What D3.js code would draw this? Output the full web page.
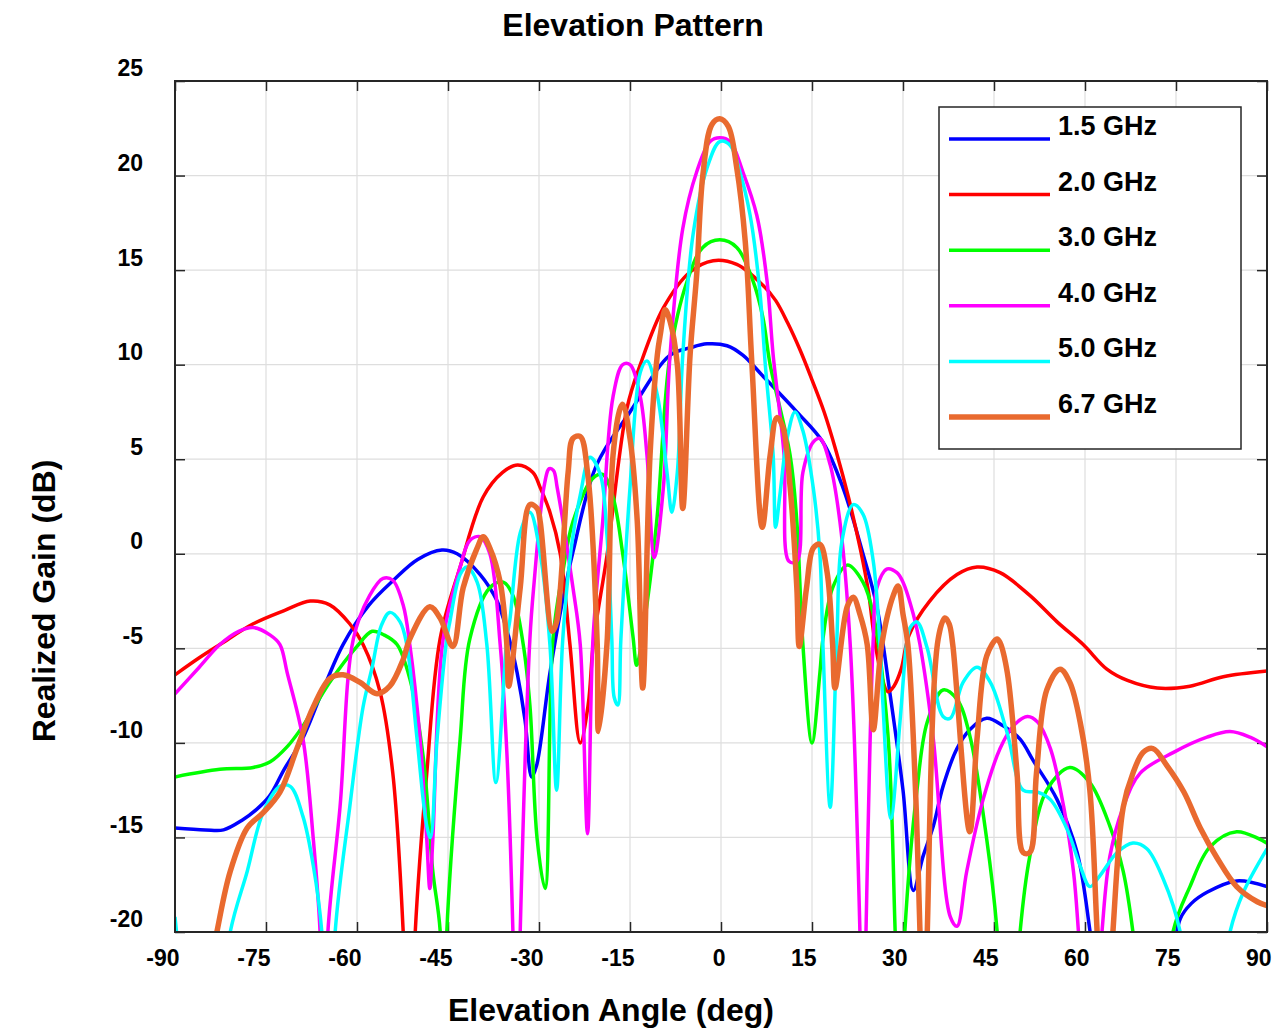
<!DOCTYPE html>
<html>
<head>
<meta charset="UTF-8">
<title>Elevation Pattern</title>
<script src="https://cdn.jsdelivr.net/npm/d3@7"></script>
<style>
  body { margin: 0; background: #fff; }
  svg text { font-family: "Liberation Sans", Arial, Helvetica, sans-serif; font-weight: bold; fill: #000; }
</style>
</head>
<body>
<div id="chart"></div>
<script>
// tick values
var angleTicks = [-90, -75, -60, -45, -30, -15, 0, 15, 30, 45, 60, 75, 90];
var gainTicks = [-20, -15, -10, -5, 0, 5, 10, 15, 20, 25];

var seriesNames = ["1.5 GHz", "2.0 GHz", "3.0 GHz", "4.0 GHz", "5.0 GHz", "6.7 GHz"];
var seriesColors = ["#0000ff", "#ff0000", "#00ff00", "#ff00ff", "#00ffff", "#e96a2f"];

// [angle deg, realized gain dB]; values under -20 are the nulls that get clipped
var gain15 = [[-90,-14.5],[-85,-14.6],[-82,-14.6],[-79,-14.1],[-76.5,-13.5],[-74.4,-12.8],[-72,-11.4],[-69,-9.8],[-66,-7.5],
  [-62.3,-4.8],[-58,-2.7],[-54,-1.4],[-50,-0.3],[-46,0.2],[-43.5,0.0],[-39.7,-1.1],[-36.9,-2.5],[-35.9,-3.4],[-34.5,-5.0],
  [-33.6,-6.3],[-32.3,-8.8],[-31.2,-11.8],[-30.4,-11.2],[-28.2,-6.3],[-26,-2.3],[-24.4,0.1],[-20.5,4.7],[-15,7.5],[-8.4,10.5],
  [-5,10.9],[-2.3,11.1],[1,11.0],[3.6,10.5],[6.9,9.4],[12.5,7.5],[16.8,5.9],[20.1,3.5],[23.4,0],[25.7,-2.8],[27.9,-7.5],
  [30,-12.5],[31.7,-17.8],[33.3,-16.0],[35,-14.4],[36.6,-12.3],[38.9,-10.3],[41,-9.3],[43.8,-8.7],[46.5,-9.1],[49.3,-9.8],
  [51.4,-10.9],[55.4,-13.0],[58.7,-15.8],[60.8,-19.9],[62,-23],[68,-35],[74.5,-21.5],[75.7,-19.3],[77.5,-18.5],[80.1,-17.9],
  [85,-17.3],[90,-17.6]];

var gain20 = [[-90,-6.4],[-86,-5.5],[-82.6,-4.8],[-77.1,-3.7],[-72,-3.0],[-67.7,-2.5],[-64.5,-2.7],[-61.2,-3.7],[-59,-4.8],
  [-56.2,-7.3],[-54.1,-11.6],[-52.4,-19.9],[-51.4,-30],[-50.4,-20],[-48.5,-11.6],[-46.3,-4.5],[-43,-0.7],[-39.2,3.0],[-36,4.3],
  [-33.5,4.7],[-31,4.3],[-29.8,3.5],[-28.2,2.2],[-26.5,0.0],[-24.9,-4.8],[-23.2,-10.0],[-21.9,-8.0],[-21,-4.6],[-18.8,-0.1],
  [-15.5,7.7],[-13.3,10.0],[-9.5,13.0],[-5.1,14.9],[-1.3,15.5],[2.6,15.3],[6.9,14.2],[9,13.4],[11,12.2],[13,10.8],[15,9.2],
  [17,7.5],[19,5.4],[21,3.0],[23,0.2],[24.3,-2.0],[25.3,-4.5],[26.5,-6.5],[27.5,-7.3],[28.5,-7.0],[29.7,-6.1],[31,-4.3],
  [34.4,-2.5],[38.9,-1.1],[42.2,-0.7],[46,-1.0],[50.9,-2.2],[55.4,-3.6],[59.7,-4.8],[63.6,-6.1],[67,-6.7],[71.9,-7.1],
  [77.3,-7.0],[82.8,-6.5],[90,-6.2]];

var gain30 = [[-90,-11.8],[-82.6,-11.4],[-77.1,-11.3],[-74.3,-11.0],[-71.5,-10.2],[-68.9,-9.1],[-64.5,-6.8],[-60,-4.9],
  [-57.5,-4.1],[-55.5,-4.3],[-53.4,-4.8],[-51.3,-6.6],[-49.1,-10.7],[-47.5,-16.8],[-46.3,-19.9],[-45.7,-28],[-45.2,-20],
  [-43,-9.8],[-41.4,-4.5],[-38.1,-1.8],[-35.9,-1.5],[-34.3,-2.2],[-32.6,-4.8],[-31.5,-8.0],[-30.3,-15.1],[-29,-17.7],
  [-27.7,-4.5],[-26,-0.8],[-24.4,1.7],[-21.1,4.0],[-19.5,4.2],[-17.8,3.0],[-16.2,0.0],[-14.5,-4.4],[-13.9,-5.9],[-12.8,-4.0],
  [-10.6,1.7],[-8.4,10.5],[-5.6,14.4],[-3,16.2],[-0.2,16.6],[2.6,16.2],[5.3,14.4],[6.9,12.5],[8.1,10.0],[11.4,5.2],[12.5,1.7],
  [13.5,-4.8],[15,-10.0],[16.3,-6.3],[16.8,-4.5],[18.4,-1.8],[20.8,-0.6],[23.4,-1.5],[25.1,-3.2],[27.5,-9.5],[28.7,-19.9],
  [29.5,-28],[30.3,-20],[32.3,-12.5],[34,-8.9],[36.6,-7.2],[38.9,-7.7],[41,-9.6],[43.8,-15.1],[45.5,-19.9],[47.4,-30],
  [49.3,-20],[50.9,-16.0],[53.7,-12.5],[57.5,-11.3],[60.8,-12.1],[64.1,-14.4],[66.3,-16.8],[67.9,-20],[71,-30],[74.5,-20],
  [77.3,-17.6],[80.6,-15.5],[85,-14.7],[90,-15.3]];

var gain40 = [[-90,-7.4],[-86,-6.0],[-82.6,-4.8],[-79.5,-4.1],[-77.1,-3.9],[-74.3,-4.3],[-72.7,-4.8],[-71.5,-6.3],[-68.9,-9.8],
  [-67.2,-15.1],[-66.1,-19.9],[-65.5,-28],[-64.8,-20],[-62.8,-13.4],[-60.6,-4.5],[-57.9,-2.2],[-55.7,-1.3],[-54.1,-1.4],
  [-52.4,-2.7],[-51.3,-4.8],[-49.6,-9.8],[-48.5,-15.1],[-48,-17.7],[-47.5,-15.1],[-45.8,-4.5],[-43,-0.7],[-41.4,0.7],
  [-39.7,0.9],[-38.1,0.0],[-36.4,-4.8],[-35.3,-10.5],[-34.3,-20],[-33.7,-30],[-33.1,-20],[-31.5,-4.5],[-30.8,-1.5],[-29.2,3.5],
  [-28.3,4.5],[-27.6,4.4],[-27,3.5],[-24.4,-1.8],[-23.2,-4.8],[-22,-14.8],[-21.1,-4.5],[-19.5,1.7],[-17.8,8.3],[-16.2,10.0],
  [-15,10.0],[-13.3,8.3],[-12.2,5.2],[-11,-0.2],[-9.5,3.5],[-8.4,10.5],[-6.3,17.2],[-4,20.2],[-1.8,21.8],[-0.2,22.0],[1.5,21.8],
  [3.6,20.2],[5.9,17.9],[7.6,14.4],[8.6,10.5],[10.4,5.2],[11.2,-0.4],[12.5,-0.4],[13.5,4.3],[15.2,5.9],[16.3,6.1],[18,4.7],
  [19.6,1.7],[21.3,-4.8],[22.9,-20],[23.4,-30],[23.9,-20],[25.1,-4.5],[25.7,-1.8],[27.4,-0.8],[29,-1.0],[30,-1.5],[31.7,-3.2],
  [32.8,-4.8],[35,-9.8],[37.8,-19.2],[38.9,-19.7],[40.5,-16.8],[43.2,-13.0],[46,-10.3],[48.2,-9.1],[50.5,-8.6],[52.2,-8.9],
  [54.3,-10.3],[56.5,-13.4],[58.1,-16.8],[58.9,-19.9],[60.8,-30],[62.8,-20],[64.1,-16.0],[66.3,-13.4],[69.1,-11.6],
  [74.6,-10.5],[80.1,-9.7],[83.9,-9.4],[87.2,-9.7],[90,-10.2]];

var gain50 = [[-90,-19.2],[-89,-22],[-85,-30],[-80.9,-20],[-78.1,-16.8],[-75.5,-13.7],[-72.7,-12.3],[-71,-12.3],[-68.9,-13.9],
  [-67.2,-16.5],[-65.8,-20],[-64.7,-30],[-63.6,-20],[-61.2,-13.4],[-59,-8.1],[-57.5,-6.0],[-56,-3.8],[-54.6,-3.1],[-52.9,-3.6],
  [-51.8,-4.8],[-50.1,-9.8],[-48.5,-14.4],[-47.9,-15.0],[-46.8,-9.8],[-45.2,-4.5],[-44.7,-3.6],[-43,-1.1],[-41.9,-0.7],
  [-40.2,-1.5],[-38.6,-4.8],[-37.1,-12.1],[-35.3,-4.5],[-34.8,-3.5],[-33.1,1.1],[-31.5,2.2],[-29.8,0.0],[-28.2,-4.8],
  [-27.1,-12.5],[-26.1,-4.6],[-24.6,0.5],[-23.2,3.1],[-21.6,5.1],[-19.9,4.2],[-18.8,1.0],[-18,-4.5],[-17.6,-7.6],[-17,-8.0],
  [-16.5,-4.5],[-15,3.5],[-13.3,9.6],[-12.2,10.2],[-10.5,8.4],[-8.9,4.3],[-8.1,2.2],[-7.2,4.3],[-6.3,10.5],[-4.6,16.9],
  [-2.3,20.4],[-0.2,21.8],[1.5,21.6],[3.1,20.2],[4.8,17.9],[6.4,13.9],[7.3,10.0],[8.6,5.2],[9,1.4],[9.7,3.1],[10.9,6.1],
  [12.2,7.5],[13.5,6.5],[15.2,3.5],[16.3,0.0],[16.8,-4.8],[18,-13.4],[19.1,-4.5],[19.9,0.6],[21.8,2.6],[23.4,2.1],[25.1,-0.4],
  [26.2,-4.8],[26.7,-8.0],[28,-14.0],[29.5,-8.9],[30.7,-4.5],[31.2,-3.9],[32.3,-3.6],[34,-5.0],[36.6,-8.6],[37.8,-8.7],
  [39.9,-6.8],[42.2,-6.0],[44.4,-6.8],[47.2,-9.5],[49.8,-12.5],[52.2,-12.6],[54.3,-13.0],[57.1,-14.6],[59.2,-16.5],
  [60.8,-17.6],[62.5,-17.0],[65.3,-15.8],[67.9,-15.3],[70.2,-15.6],[72.9,-17.2],[75.7,-20],[79.5,-30],[83.9,-20],
  [86.1,-17.9],[90,-15.6]];

var gain67 = [[-90,-30],[-86,-25],[-83.1,-20],[-80.9,-16.8],[-78.1,-14.5],[-75.5,-13.7],[-72.7,-12.6],[-69.9,-10.3],
  [-67.2,-8.1],[-64.5,-6.6],[-62.3,-6.4],[-59.5,-6.8],[-56.7,-7.4],[-54.6,-7.0],[-52.4,-5.6],[-51.3,-4.5],[-48,-2.8],
  [-46.3,-3.4],[-44.2,-4.9],[-42.5,-1.8],[-40.2,0.3],[-39.2,0.9],[-38.1,0.3],[-36.4,-1.5],[-35.3,-4.8],[-35,-7.0],[-33.1,-1.8],
  [-31.5,2.6],[-30.3,2.4],[-29.8,1.7],[-27.8,-4.1],[-27.1,-3.6],[-25.2,4.3],[-24.4,6.1],[-23.2,6.2],[-22,4.3],[-20.4,-4.8],
  [-20.2,-9.4],[-18.8,-4.8],[-17.8,5.2],[-16.6,7.7],[-16.2,7.9],[-15,6.1],[-13.8,1.7],[-12.9,-7.1],[-11.7,5.2],[-10.5,10.5],
  [-10,11.6],[-9.2,12.9],[-8.4,12.3],[-7.2,10.0],[-6.3,2.4],[-5.1,10.5],[-4,14.8],[-3,20.0],[-1.5,22.7],[-0.2,23.0],[1.2,22.6],
  [2.6,20.4],[4,16.5],[5.1,10.0],[6.8,1.4],[8.1,5.2],[9.2,7.2],[10.2,6.7],[11.4,3.5],[12.5,-1.8],[12.9,-4.9],[14.1,-1.8],
  [15.2,0.3],[16.3,0.5],[17.5,-1.0],[18.4,-4.8],[18.8,-7.1],[20.8,-2.8],[21.8,-2.3],[22.9,-3.2],[24.1,-4.8],[25.1,-9.3],
  [26.5,-4.8],[28.4,-2.2],[29.2,-1.7],[30,-3.2],[30.8,-4.8],[32,-12],[32.8,-20],[33.5,-28],[34,-20],[35.8,-4.5],[36.9,-3.4],
  [37.6,-3.7],[38.2,-4.8],[41,-14.7],[42.2,-9.8],[43.8,-5.4],[45.5,-4.5],[46,-4.7],[47.2,-6.3],[48.8,-11.6],[49.8,-15.8],
  [50.9,-15.8],[52,-11.6],[53.7,-7.2],[55.9,-6.1],[57.5,-6.8],[59.2,-8.9],[60.8,-12.5],[62,-20],[63.3,-28],[64.6,-20],
  [66.3,-13.4],[67.9,-11.6],[69.6,-10.5],[71.2,-10.3],[73.5,-11.2],[76.3,-12.6],[79,-14.5],[81.8,-16.1],[85,-17.6],
  [88.4,-18.4],[90,-18.6]];

var allSeries = [gain15, gain20, gain30, gain40, gain50, gain67];

var W = 1288, H = 1030;
var plotL = 175, plotT = 81, plotR = 1267, plotB = 932;

var svg = d3.select("#chart").append("svg")
    .attr("width", W)
    .attr("height", H);

var x = d3.scaleLinear().domain([-90, 90]).range([plotL, plotR]);
var y = d3.scaleLinear().domain([-20, 25]).range([plotB, plotT]);
var plain = function(d){ return String(d); };   // hyphen minus, not the unicode one

// grid
svg.append("g").selectAll("line").data(angleTicks.slice(1, -1)).enter().append("line")
    .attr("x1", function(d){return x(d)}).attr("x2", function(d){return x(d)})
    .attr("y1", plotT).attr("y2", plotB)
    .style("stroke", "#dedede").style("stroke-width", 1.2);
svg.append("g").selectAll("line").data(gainTicks.slice(1, -1)).enter().append("line")
    .attr("y1", function(d){return y(d)}).attr("y2", function(d){return y(d)})
    .attr("x1", plotL).attr("x2", plotR)
    .style("stroke", "#dedede").style("stroke-width", 1.2);

// axes, ticks point inward like matlab
var xAxis = svg.append("g").attr("transform", "translate(0," + plotB + ")")
    .call(d3.axisBottom(x).tickValues(angleTicks).tickSize(-10).tickSizeOuter(0).tickFormat(plain));
xAxis.selectAll("text").attr("y", 0).attr("dy", 0).attr("transform", "translate(4,34)")
    .style("text-anchor", "end").style("font-size", "23px");

svg.append("g").attr("transform", "translate(0," + plotT + ")")
    .call(d3.axisTop(x).tickValues(angleTicks).tickSize(-10).tickSizeOuter(0).tickFormat(""));

var yAxis = svg.append("g").attr("transform", "translate(" + plotL + ",0)")
    .call(d3.axisLeft(y).tickValues(gainTicks).tickSize(-10).tickSizeOuter(0).tickFormat(plain));
yAxis.selectAll("text").attr("x", -32).attr("dy", "-0.22em").style("font-size", "23px");

svg.append("g").attr("transform", "translate(" + plotR + ",0)")
    .call(d3.axisRight(y).tickValues(gainTicks).tickSize(-10).tickSizeOuter(0).tickFormat(""));

svg.selectAll(".domain").remove();
svg.selectAll(".tick line").style("stroke", "#262626").style("stroke-width", 1.5);

// curves
svg.append("clipPath").attr("id", "plotClip").append("rect")
    .attr("x", plotL).attr("y", plotT).attr("width", plotR - plotL).attr("height", plotB - plotT);

var line = d3.line()
    .x(function(d){return x(d[0])})
    .y(function(d){return y(d[1])})
    .curve(d3.curveCatmullRom.alpha(0.5));

var curves = svg.append("g").attr("clip-path", "url(#plotClip)");
allSeries.forEach(function(s, i){
    curves.append("path")
        .attr("d", line(s))
        .style("fill", "none")
        .style("stroke", seriesColors[i])
        .style("stroke-width", i == 5 ? 5.5 : 3.5)
        .style("stroke-linejoin", "round");
});

// box
svg.append("rect")
    .attr("x", plotL).attr("y", plotT).attr("width", plotR - plotL).attr("height", plotB - plotT)
    .style("fill", "none").style("stroke", "#262626").style("stroke-width", 2);

// legend
var leg = svg.append("g");
leg.append("rect")
    .attr("x", 939).attr("y", 107).attr("width", 302).attr("height", 342)
    .style("fill", "#fff").style("stroke", "#262626").style("stroke-width", 1.5);
seriesNames.forEach(function(name, i){
    var ly = 139 + i * 55.6;
    leg.append("line")
        .attr("x1", 949).attr("x2", 1050).attr("y1", ly).attr("y2", ly)
        .style("stroke", seriesColors[i]).style("stroke-width", i == 5 ? 5.5 : 3.5);
    leg.append("text")
        .attr("x", 1058).attr("y", ly - 4)
        .style("font-size", "27px")
        .text(name);
});

// titles
svg.append("text").attr("x", 633).attr("y", 36)
    .style("text-anchor", "middle").style("font-size", "32px")
    .text("Elevation Pattern");
svg.append("text").attr("x", 611).attr("y", 1021)
    .style("text-anchor", "middle").style("font-size", "32px")
    .text("Elevation Angle (deg)");
svg.append("text")
    .attr("transform", "translate(55,601) rotate(-90)")
    .style("text-anchor", "middle").style("font-size", "32px")
    .text("Realized Gain (dB)");
</script>
</body>
</html>
